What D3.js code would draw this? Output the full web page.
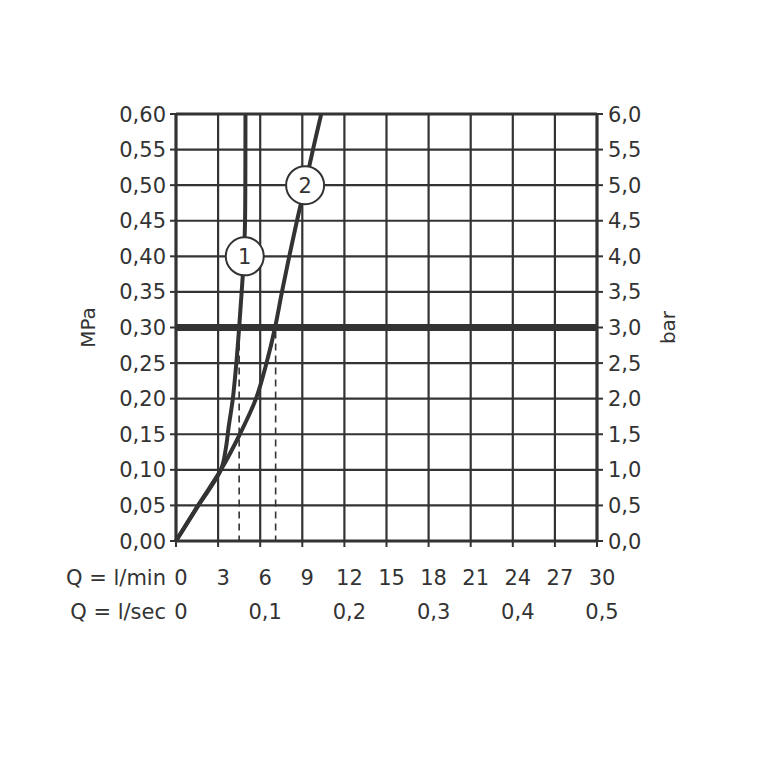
<!DOCTYPE html>
<html><head><meta charset="utf-8">
<script src="https://cdn.jsdelivr.net/npm/d3@7"></script>
<style>body{margin:0;background:#fff}svg{display:block}text{font-family:"DejaVu Sans",sans-serif;fill:#333}</style>
</head><body>
<script>
const mpaTicks = [0,0.05,0.10,0.15,0.20,0.25,0.30,0.35,0.40,0.45,0.50,0.55,0.60];
const mpaLabels = ["0,00","0,05","0,10","0,15","0,20","0,25","0,30","0,35","0,40","0,45","0,50","0,55","0,60"];
const barLabels = ["0,0","0,5","1,0","1,5","2,0","2,5","3,0","3,5","4,0","4,5","5,0","5,5","6,0"];
const lminTicks = [0,3,6,9,12,15,18,21,24,27,30];
const lsecTicks = [0,6,12,18,24,30];
const lsecLabels = ["0","0,1","0,2","0,3","0,4","0,5"];
const curve1 = [[0,0],[1.6,0.05],[3.2,0.10],[3.55,0.13],[3.75,0.16],[4.05,0.20],[4.3,0.25],[4.5,0.30],[4.68,0.35],[4.84,0.40],[4.92,0.45],[4.94,0.50],[4.95,0.60]];
const curve2 = [[0,0],[1.57,0.05],[3.2,0.10],[4.55,0.15],[5.7,0.20],[6.45,0.25],[7.06,0.30],[7.55,0.35],[8.07,0.40],[8.62,0.45],[9.2,0.50],[9.76,0.55],[10.35,0.60]];
const refPressure = 0.30;
const dashedFlows = [4.5, 7.1];
const curveLabels = [{id:"1", q:4.9, p:0.40},{id:"2", q:9.2, p:0.50}];

const W=758,H=758;
const svg=d3.select("body").append("svg").attr("width",W).attr("height",H);
const x=d3.scaleLinear().domain([0,30]).range([176,597]);
const y=d3.scaleLinear().domain([0,0.6]).range([541,114]);
const col="#333";

svg.append("g").selectAll("line").data(lminTicks).join("line")
  .attr("x1",d=>x(d)).attr("x2",d=>x(d)).attr("y1",y(0)).attr("y2",y(0.6))
  .attr("stroke",col).attr("stroke-width",d=>(d===0||d===30)?3.2:2.2);
svg.append("g").selectAll("line").data(mpaTicks).join("line")
  .attr("x1",x(0)).attr("x2",x(30)).attr("y1",d=>y(d)).attr("y2",d=>y(d))
  .attr("stroke",col).attr("stroke-width",d=>(d===0||d===0.6)?3.2:2.2);

svg.append("g").selectAll("line").data(mpaTicks).join("line")
  .attr("x1",x(0)-6).attr("x2",x(0)).attr("y1",d=>y(d)).attr("y2",d=>y(d)).attr("stroke",col).attr("stroke-width",2);
svg.append("g").selectAll("line").data(mpaTicks).join("line")
  .attr("x1",x(30)).attr("x2",x(30)+6).attr("y1",d=>y(d)).attr("y2",d=>y(d)).attr("stroke",col).attr("stroke-width",2);
svg.append("g").selectAll("line").data(lminTicks).join("line")
  .attr("x1",d=>x(d)).attr("x2",d=>x(d)).attr("y1",y(0)).attr("y2",y(0)+6).attr("stroke",col).attr("stroke-width",2);

svg.append("line").attr("x1",x(0)).attr("x2",x(30)).attr("y1",y(refPressure)).attr("y2",y(refPressure))
  .attr("stroke",col).attr("stroke-width",7);

svg.append("g").selectAll("line").data(dashedFlows).join("line")
  .attr("x1",d=>x(d)).attr("x2",d=>x(d)).attr("y1",y(refPressure)+4).attr("y2",y(0))
  .attr("stroke",col).attr("stroke-width",1.6).attr("stroke-dasharray","7,5");

const line=d3.line().x(d=>x(d[0])).y(d=>y(d[1])).curve(d3.curveCatmullRom.alpha(0.5));
[curve1,curve2].forEach(c=>svg.append("path").attr("d",line(c)).attr("fill","none").attr("stroke",col).attr("stroke-width",4).attr("stroke-linejoin","round"));

const cl=svg.append("g").selectAll("g").data(curveLabels).join("g").attr("transform",d=>`translate(${x(d.q)},${y(d.p)})`);
cl.append("circle").attr("r",19).attr("fill","#fff").attr("stroke",col).attr("stroke-width",2);
cl.append("text").attr("text-anchor","middle").attr("dy","0.36em").attr("font-size",21).text(d=>d.id);

svg.append("g").selectAll("text").data(mpaTicks).join("text")
  .attr("x",x(0)-10).attr("y",d=>y(d)).attr("dy","0.36em").attr("text-anchor","end").attr("font-size",21)
  .text((d,i)=>mpaLabels[i]);
svg.append("g").selectAll("text").data(mpaTicks).join("text")
  .attr("x",x(30)+11).attr("y",d=>y(d)).attr("dy","0.36em").attr("text-anchor","start").attr("font-size",21)
  .text((d,i)=>barLabels[i]);
svg.append("text").attr("transform",`translate(95,${y(0.3)}) rotate(-90)`).attr("text-anchor","middle").attr("font-size",20).text("MPa");
svg.append("text").attr("transform",`translate(675,${y(0.3)}) rotate(-90)`).attr("text-anchor","middle").attr("font-size",20).text("bar");

svg.append("g").selectAll("text").data(lminTicks).join("text")
  .attr("x",d=>x(d)+5).attr("y",585).attr("text-anchor","middle").attr("font-size",21).text(d=>d);
svg.append("g").selectAll("text").data(lsecTicks).join("text")
  .attr("x",d=>x(d)+5).attr("y",619).attr("text-anchor","middle").attr("font-size",21).text((d,i)=>lsecLabels[i]);
svg.append("text").attr("x",166).attr("y",585).attr("text-anchor","end").attr("font-size",21).text("Q = l/min");
svg.append("text").attr("x",166).attr("y",619).attr("text-anchor","end").attr("font-size",21).text("Q = l/sec");
</script>
</body></html>
